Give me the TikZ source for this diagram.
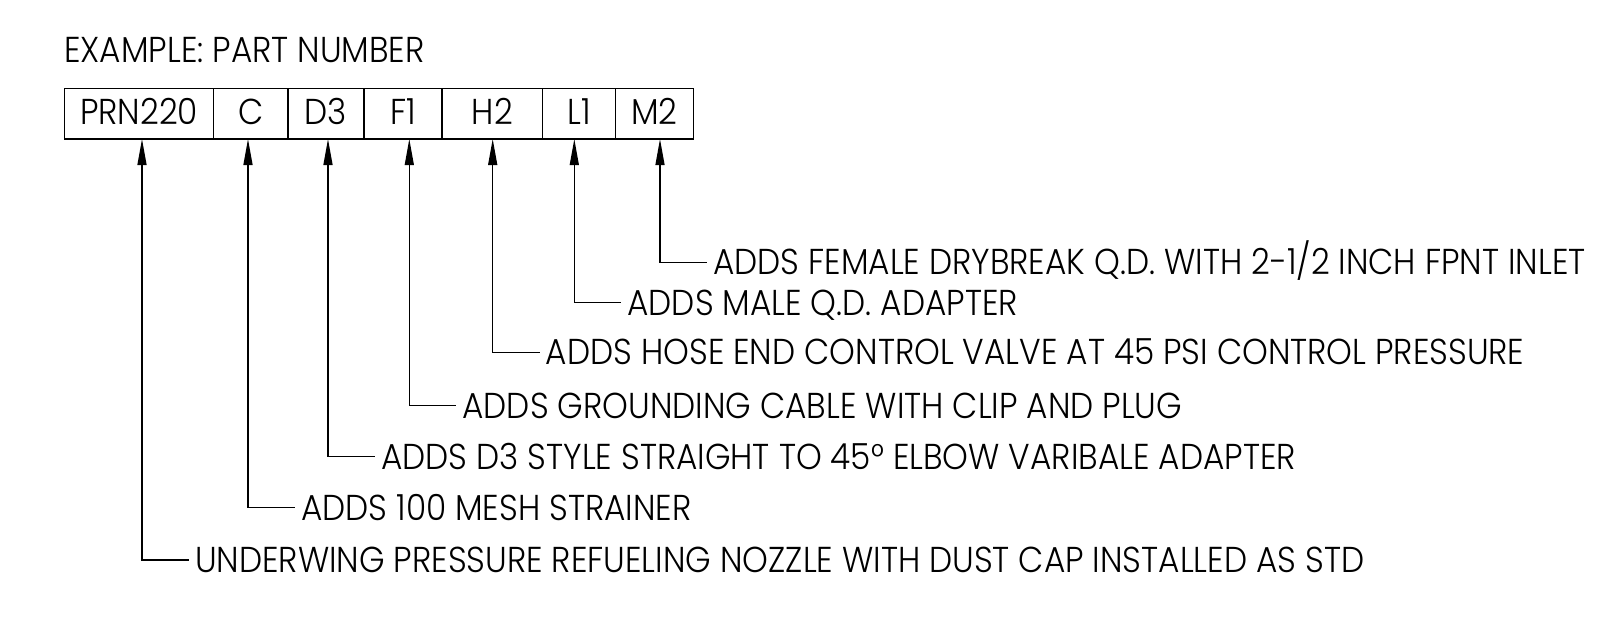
\documentclass[tikz,border=0pt]{standalone}
\usepackage{fontspec}
\setmainfont{Poppins}[UprightFont=* Light, FakeStretch=0.91]
\usetikzlibrary{positioning,arrows.meta}

\begin{document}
\begin{tikzpicture}[
  x=1pt, y=-1pt,
  node distance=0pt,
  every node/.style={font=\fontsize{36}{43}\selectfont},
  cell/.style={draw, line width=1.3pt, outer sep=0pt, inner sep=0pt, minimum height=50.7pt, text height=22pt, text depth=0pt},
  desc/.style={inner xsep=6pt, inner ysep=0pt, text height=25pt, text depth=0pt},
  pointer/.style={line width=1.3pt, {Triangle[length=26pt,width=9pt]}-}
]
\useasboundingbox (0,0) rectangle (1608,619);
\node[anchor=base west, inner sep=0pt] (title) at (64,62.3) {EXAMPLE: PART NUMBER};
% part number cells
\node[cell, minimum width=149.4pt, anchor=north west] (cPRN) at (64.3,88.3) {PRN220};
\node[cell, minimum width=74.3pt, right=of cPRN] (cC) {C};
\node[cell, minimum width=76pt, right=of cC] (cD3) {D3};
\node[cell, minimum width=78pt, right=of cD3] (cF1) {F1};
\node[cell, minimum width=100.7pt, right=of cF1] (cH2) {H2};
\node[cell, minimum width=73pt, right=of cH2] (cL1) {L1};
\node[cell, minimum width=77.6pt, right=of cL1] (cM2) {M2};
% bends of the leaders
\coordinate (bPRN) at (142,560);
\coordinate (bC) at (248,507.7);
\coordinate (bD3) at (328,456.7);
\coordinate (bF1) at (409.3,405.7);
\coordinate (bH2) at (492.7,352.3);
\coordinate (bL1) at (574.3,302.7);
\coordinate (bM2) at (660,262.3);
% descriptions
\node[desc, right=47pt of bM2] (dM2) {ADDS FEMALE DRYBREAK Q.D. WITH 2-1/2 INCH FPNT INLET};
\node[desc, right=47pt of bL1] (dL1) {ADDS MALE Q.D. ADAPTER};
\node[desc, right=47pt of bH2] (dH2) {ADDS HOSE END CONTROL VALVE AT 45 PSI CONTROL PRESSURE};
\node[desc, right=47pt of bF1] (dF1) {ADDS GROUNDING CABLE WITH CLIP AND PLUG};
\node[desc, right=47pt of bD3] (dD3) {ADDS D3 STYLE STRAIGHT TO 45° ELBOW VARIBALE ADAPTER};
\node[desc, right=47pt of bC] (dC) {ADDS 100 MESH STRAINER};
\node[desc, right=47pt of bPRN] (dPRN) {UNDERWING PRESSURE REFUELING NOZZLE WITH DUST CAP INSTALLED AS STD};
% leaders
\draw[pointer] (cPRN.south -| bPRN) -- (bPRN) -- (dPRN.west);
\draw[pointer] (cC.south -| bC) -- (bC) -- (dC.west);
\draw[pointer] (cD3.south -| bD3) -- (bD3) -- (dD3.west);
\draw[pointer] (cF1.south -| bF1) -- (bF1) -- (dF1.west);
\draw[pointer] (cH2.south -| bH2) -- (bH2) -- (dH2.west);
\draw[pointer] (cL1.south -| bL1) -- (bL1) -- (dL1.west);
\draw[pointer] (cM2.south -| bM2) -- (bM2) -- (dM2.west);
\end{tikzpicture}
\end{document}
